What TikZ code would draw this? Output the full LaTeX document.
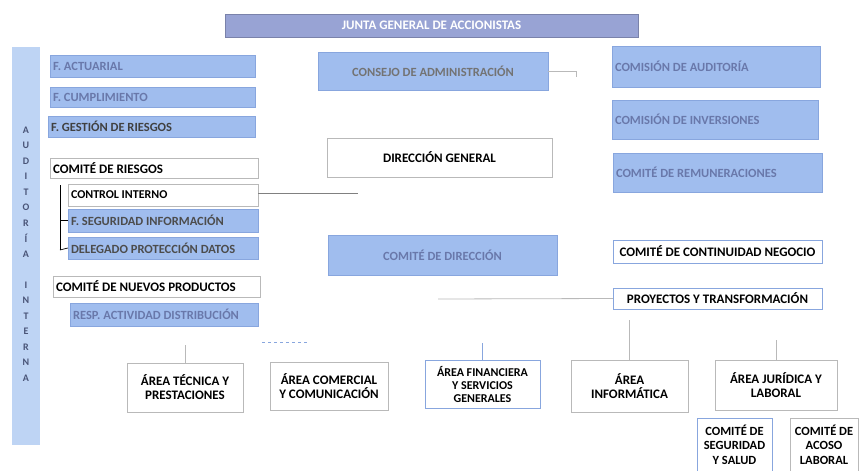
\documentclass[tikz,border=0pt]{standalone}
\usepackage{fontspec}
\setmainfont{Carlito}
\usepackage{xcolor}
\usepackage{tikz}
\usetikzlibrary{positioning}
\definecolor{azul}{RGB}{160,189,238}
\definecolor{azulborde}{RGB}{136,166,222}
\definecolor{azulclaro}{RGB}{190,212,244}
\definecolor{barra}{RGB}{152,163,212}
\definecolor{textoazul}{RGB}{105,120,170}
\definecolor{gris}{RGB}{185,185,185}
\tikzstyle{caja}+=[rectangle,inner sep=3pt,font=\bfseries\fontsize{13}{14}\selectfont]
\tikzstyle{azulbox}+=[caja,fill=azul,draw=azulborde,text=textoazul,font=\bfseries\fontsize{12.5}{13}\selectfont]
\tikzstyle{blancobox}+=[caja,fill=white,draw=gris,text=black]
\tikzstyle{areabox}+=[blancobox,align=center,font=\bfseries\fontsize{13}{14}\selectfont]
\tikzstyle{enlace}+=[draw=gris,line width=0.8pt]

\begin{document}
\begin{tikzpicture}[x=1pt,y=-1pt]
  \useasboundingbox (0,0) rectangle (862,471);
  % junta y auditoria
  \node[caja,fill=barra,draw=barra!80!black,text=white,minimum width=413,minimum height=23,font=\bfseries\fontsize{13}{14}\selectfont] (junta) at (431.5,25.5) {JUNTA GENERAL DE ACCIONISTAS};
  \node[fill=azulclaro,minimum width=28,minimum height=398,inner sep=0] (audit) at (26,246) {};
  \foreach \l [count=\i from 0] in {A,U,D,I,T,O,R,Í,A,{},I,N,T,E,R,N,A}
    \node[text=textoazul!70!black,font=\bfseries\fontsize{10}{10}\selectfont] at (26,130+15.5*\i) {\l};
  % funciones
  \node[azulbox,text width=199,align=flush left,minimum height=22] (fact) at (152.5,66) {F. ACTUARIAL};
  \node[azulbox,text width=199,align=flush left,minimum height=20] (fcum) at (152.5,97) {F. CUMPLIMIENTO};
  \node[azulbox,text width=201,align=flush left,minimum height=21,text=black!75] (fges) at (151.5,126.5) {F. GESTIÓN DE RIESGOS};
  \node[blancobox,text width=202,align=flush left,minimum height=20] (crie) at (154,168) {COMITÉ DE RIESGOS};
  \node[blancobox,text width=184,align=flush left,minimum height=22,font=\bfseries\fontsize{12}{13}\selectfont] (cint) at (163,195) {CONTROL INTERNO};
  \node[azulbox,text width=184,align=flush left,minimum height=23,text=black!70] (fseg) at (163,220.5) {F. SEGURIDAD INFORMACIÓN};
  \node[azulbox,text width=184,align=flush left,minimum height=22,text=black!70] (dpd) at (163,248) {DELEGADO PROTECCIÓN DATOS};
  \node[blancobox,text width=201,align=flush left,minimum height=21] (cnp) at (156.5,286.5) {COMITÉ DE NUEVOS PRODUCTOS};
  \node[azulbox,text width=182,align=flush left,minimum height=23] (rad) at (164,314.5) {RESP. ACTIVIDAD DISTRIBUCIÓN};
  % gobierno
  \node[azulbox,minimum width=230,minimum height=38,text=black!55] (cadm) at (433,71) {CONSEJO DE ADMINISTRACIÓN};
  \node[blancobox,minimum width=225,minimum height=39] (dgen) at (439.5,157.5) {DIRECCIÓN GENERAL};
  \node[azulbox,minimum width=229,minimum height=40] (cdir) at (442.5,255) {COMITÉ DE DIRECCIÓN};
  % comisiones
  \node[azulbox,text width=202,align=flush left,minimum height=41] (caud) at (716,66.5) {COMISIÓN DE AUDITORÍA};
  \node[azulbox,text width=200,align=flush left,minimum height=39] (cinv) at (715,119.5) {COMISIÓN DE INVERSIONES};
  \node[azulbox,text width=203,align=flush left,minimum height=39] (crem) at (717.5,172.5) {COMITÉ DE REMUNERACIONES};
  \node[blancobox,draw=azulborde,minimum width=209,minimum height=23] (ccn) at (717.5,251.5) {COMITÉ DE CONTINUIDAD NEGOCIO};
  \node[blancobox,draw=azulborde,minimum width=209,minimum height=21] (pyt) at (717.5,298.5) {PROYECTOS Y TRANSFORMACIÓN};
  % areas
  \node[areabox,minimum width=116,minimum height=49] (atec) at (185,387.5) {ÁREA TÉCNICA Y\\PRESTACIONES};
  \node[areabox,minimum width=118,minimum height=48] (acom) at (329,386) {ÁREA COMERCIAL\\Y COMUNICACIÓN};
  \node[areabox,draw=azulborde,minimum width=115,minimum height=48,font=\bfseries\fontsize{12}{13}\selectfont] (afin) at (482.5,384) {ÁREA FINANCIERA\\Y SERVICIOS\\GENERALES};
  \node[areabox,minimum width=117,minimum height=52] (ainf) at (629.5,386) {ÁREA\\INFORMÁTICA};
  \node[areabox,minimum width=122,minimum height=50] (ajur) at (776,385) {ÁREA JURÍDICA Y\\LABORAL};
  \node[areabox,draw=azulborde,minimum width=75,minimum height=53,inner sep=1pt,font=\bfseries\fontsize{12.5}{14.5}\selectfont] (cseg) at (734.5,444.5) {COMITÉ DE\\SEGURIDAD\\Y SALUD};
  \node[areabox,minimum width=68,minimum height=53,inner sep=1pt,font=\bfseries\fontsize{12.5}{14.5}\selectfont] (caco) at (824,444.5) {COMITÉ DE\\ACOSO\\LABORAL};
  % enlaces
  \coordinate (k1) at (576,67);
  \coordinate (k2) at (358,193);
  \coordinate (k3) at (438,299);
  \coordinate (k4) at (60,185);
  \coordinate (k5) at (60,250);
  \draw[enlace] (cadm.east) -- (k1 |- cadm.east) -- ++(0,6);
  \draw[enlace,draw=gray] (cint.east |- k2) -- (k2);
  \draw[enlace] (k3) -- (pyt.west);
  \draw[line width=0.7pt] (k4) -- (k5);
  \draw[line width=0.7pt] (k4 |- fseg.west) -- (fseg.west);
  \draw[line width=0.7pt] (k5) -- (dpd.west);
  \draw[enlace] (atec.north) -- ++(0,-18);
  \draw[enlace,draw=azulborde] (afin.north) -- ++(0,-17);
  \draw[enlace] (ainf.north) -- ++(0,-40);
  \draw[enlace] (ajur.north) -- ++(0,-20);
  \draw[enlace,dashed,draw=azulborde] (262,342) -- (308,342);
\end{tikzpicture}
\end{document}
